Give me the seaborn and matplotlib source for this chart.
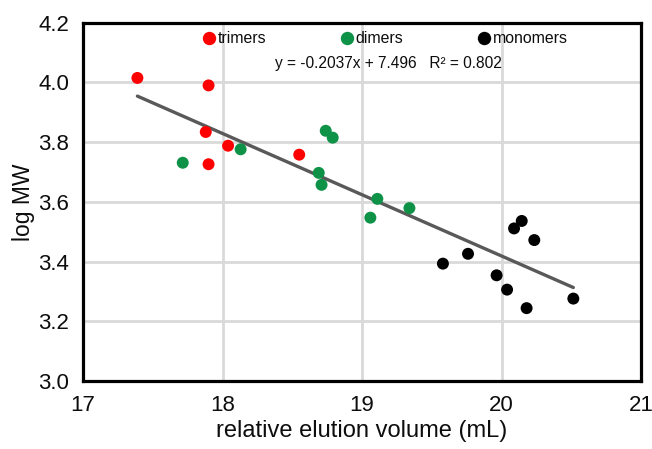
import matplotlib
matplotlib.use("Agg")
import matplotlib.pyplot as plt
import seaborn as sns
import pandas as pd
import numpy as np

# --- data ---
trimers_x = [17.39, 17.90, 17.88, 17.90, 18.04, 18.55]
trimers_y = [4.015, 3.990, 3.834, 3.726, 3.788, 3.758]
dimers_x = [17.715, 18.13, 18.74, 18.79, 18.69, 18.71, 19.11, 19.06, 19.34]
dimers_y = [3.731, 3.776, 3.838, 3.815, 3.697, 3.657, 3.610, 3.547, 3.579]
monomers_x = [19.58, 19.76, 19.965, 20.04, 20.18, 20.09, 20.145, 20.235, 20.515]
monomers_y = [3.393, 3.426, 3.354, 3.306, 3.244, 3.511, 3.536, 3.472, 3.276]
groups = ["trimers", "dimers", "monomers"]
equation_text = "y = -0.2037x + 7.496   R² = 0.802"
x_ticks = [17, 18, 19, 20, 21]
y_ticks = [3.0, 3.2, 3.4, 3.6, 3.8, 4.0, 4.2]

df = pd.DataFrame({
    "x": trimers_x + dimers_x + monomers_x,
    "y": trimers_y + dimers_y + monomers_y,
    "group": (["trimers"] * len(trimers_x) + ["dimers"] * len(dimers_x)
              + ["monomers"] * len(monomers_x)),
})

sns.set_theme(style="white")
plt.rcParams["font.family"] = ["Liberation Sans", "DejaVu Sans"]

fig = plt.figure(figsize=(6.52, 4.49), dpi=100)
ax = fig.add_axes([83 / 652, 1 - 381 / 449, (641 - 83) / 652, (381 - 22.7) / 449])

palette = {"trimers": "#ff0000", "dimers": "#0e9247", "monomers": "#000000"}
txt_color = "#0d0d0d"

# grid
ax.set_axisbelow(True)
ax.grid(True, color="#d9d9d9", linewidth=2.0)

# trend line (linear fit over all points)
sns.regplot(data=df, x="x", y="y", scatter=False, ci=None, truncate=True,
            ax=ax, line_kws=dict(color="#595959", linewidth=2.4, zorder=2))

sns.scatterplot(data=df, x="x", y="y", hue="group", hue_order=groups,
                palette=palette, s=74, linewidth=0, ax=ax, zorder=3)

ax.set_xlim(17, 21)
ax.set_ylim(3.0, 4.2)
ax.set_xticks(x_ticks)
ax.set_xticklabels([str(t) for t in x_ticks])
ax.set_yticks(y_ticks)
ax.set_yticklabels([f"{t:.1f}" for t in y_ticks])
ax.tick_params(axis="both", length=0, labelsize=16, colors=txt_color)
ax.tick_params(axis="y", pad=10)
ax.tick_params(axis="x", pad=10)

for sp in ax.spines.values():
    sp.set_visible(True)
    sp.set_color("black")
    sp.set_linewidth(2.3)

ax.set_xlabel("relative elution volume (mL)", fontsize=17, color=txt_color, labelpad=3)
ax.set_ylabel("log MW", fontsize=16.5, color=txt_color, labelpad=2)

leg = ax.legend(loc="center", bbox_to_anchor=(0.54, 0.955), ncol=3, frameon=False,
                fontsize=11.4, handletextpad=0.05, columnspacing=4.6,
                handlelength=1.0, borderaxespad=0, markerscale=1.12)
for t in leg.get_texts():
    t.set_color(txt_color)

ax.text(0.547, 0.887, equation_text, transform=ax.transAxes, ha="center", va="center",
        fontsize=11.2, color=txt_color)

fig.savefig("out.png", dpi=100)
